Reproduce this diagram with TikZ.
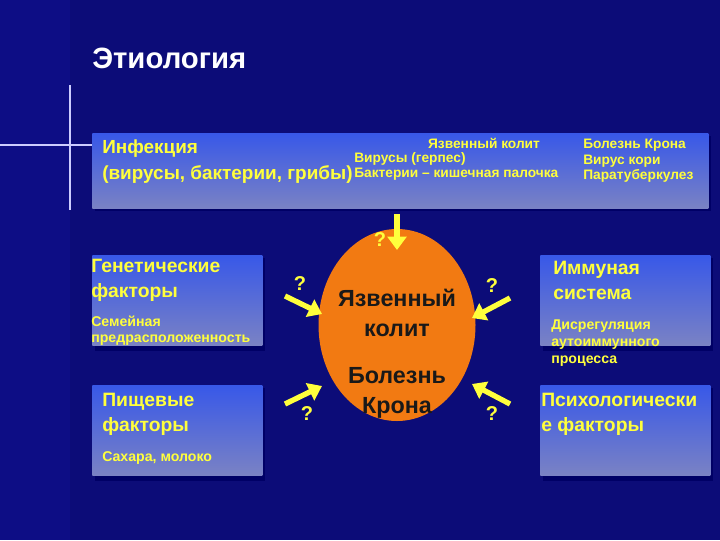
\documentclass[tikz,border=0pt]{standalone}
\usepackage{fontspec}
\setmainfont{Liberation Sans}
\usetikzlibrary{arrows.meta,shapes.geometric}
\definecolor{bg}{HTML}{0C0C78}
\definecolor{bgl}{HTML}{1010A0}
\definecolor{boxt}{HTML}{3858E8}
\definecolor{boxb}{HTML}{7A82C4}
\definecolor{yel}{HTML}{FFFF3C}
\definecolor{org}{HTML}{F27A12}
\tikzset{
 fbox/.style={draw=none,top color=boxt,bottom color=boxb},
 ytxt/.style={text=yel,font=\bfseries,align=left,inner sep=0pt},
 yarr/.style={draw=yel,line width=4pt,-{Triangle[length=10pt,width=14pt]}},
 qm/.style={text=yel,font=\bfseries\fontsize{15}{15}\selectfont,inner sep=0pt}
}
\begin{document}
\begin{tikzpicture}[x=0.75pt,y=-0.75pt]
\useasboundingbox (0,0) rectangle (720,540);
\fill[bg] (0,0) rectangle (720,540);
\fill[bgl,opacity=0.35] (0,0) rectangle (70,540);
\draw[white!80!blue,line width=0.8pt] (0,145) -- (140,145) (70,85) -- (70,210);
\node[anchor=west,text=white,font=\bfseries\fontsize{22}{22}\selectfont,inner sep=0pt] (title) at (92,58) {Этиология};
% boxes
\fill[black!60!blue] (95,136) rectangle (711,211);
\node[fbox,minimum width=616*0.75pt,minimum height=75*0.75pt,anchor=north west] (inf) at (92,133) {};
\foreach \n/\x/\y in {gen/92/255,pit/92/385,imm/540/255,psy/540/385}{
 \fill[black!60!blue] (\x+3,\y+3) rectangle ++(170,93);
 \node[fbox,minimum width=170*0.75pt,minimum height=90*0.75pt,anchor=north west] (\n) at (\x,\y) {};
}
\node[ytxt,anchor=north west,font=\bfseries\fontsize{14.2}{19}\selectfont] (inft) at (102,140) {Инфекция\\(вирусы, бактерии, грибы)};
\node[ytxt,anchor=north,font=\bfseries\fontsize{10.3}{11.5}\selectfont] (yk) at (484,138) {Язвенный колит};
\node[ytxt,anchor=north west,font=\bfseries\fontsize{10.3}{11.5}\selectfont] (ykt) at (354,152) {Вирусы (герпес)\\Бактерии – кишечная палочка};
\node[ytxt,anchor=north west,font=\bfseries\fontsize{10.3}{11.5}\selectfont] (bk) at (583,139) {Болезнь Крона\\Вирус кори\\Паратуберкулез};
\node[ytxt,anchor=north west,font=\bfseries\fontsize{14.5}{19}\selectfont] (gent) at (91,259) {Генетические\\факторы};
\node[ytxt,anchor=north west,font=\bfseries\fontsize{10.6}{12}\selectfont] (gens) at (91,316) {Семейная\\предрасположенность};
\node[ytxt,anchor=north west,font=\bfseries\fontsize{14.5}{19}\selectfont] (pitt) at (102,393) {Пищевые\\факторы};
\node[ytxt,anchor=north west,font=\bfseries\fontsize{10.6}{12}\selectfont] (pits) at (102,451) {Сахара, молоко};
\node[ytxt,anchor=north west,font=\bfseries\fontsize{14.5}{19}\selectfont] (immt) at (553,261) {Иммуная\\система};
\node[ytxt,anchor=north west,font=\bfseries\fontsize{10.6}{12.5}\selectfont] (imms) at (551,320) {Дисрегуляция\\аутоиммунного\\процесса};
\node[ytxt,anchor=north west,font=\bfseries\fontsize{14.5}{19}\selectfont] (psyt) at (541,393) {Психологически\\е факторы};
% circle
\node[ellipse,fill=org,minimum width=157*0.75pt,minimum height=192*0.75pt,inner sep=0pt] (c) at (397,325) {};
\node[font=\bfseries\fontsize{17.5}{23}\selectfont,text=black!90,align=center] (c1) at (397,313) {Язвенный\\колит};
\node[font=\bfseries\fontsize{17.5}{23}\selectfont,text=black!90,align=center] (c2) at (397,393) {Болезнь\\Крона};
% arrows
\coordinate (a0) at (397,214); \coordinate (b0) at (397,250);
\coordinate (a1) at (285,296); \coordinate (b1) at (322,314);
\coordinate (a2) at (285,404); \coordinate (b2) at (322,386);
\coordinate (a3) at (510,298); \coordinate (b3) at (472,318);
\coordinate (a4) at (510,404); \coordinate (b4) at (472,384);
\foreach \i in {0,...,4}{\draw[yarr] (a\i) -- (b\i);}
\node[qm] (q0) at (380,240) {?};
\node[qm] (q1) at (300,284) {?};
\node[qm] (q2) at (307,414) {?};
\node[qm] (q3) at (492,286) {?};
\node[qm] (q4) at (492,414) {?};
\end{tikzpicture}
\end{document}
